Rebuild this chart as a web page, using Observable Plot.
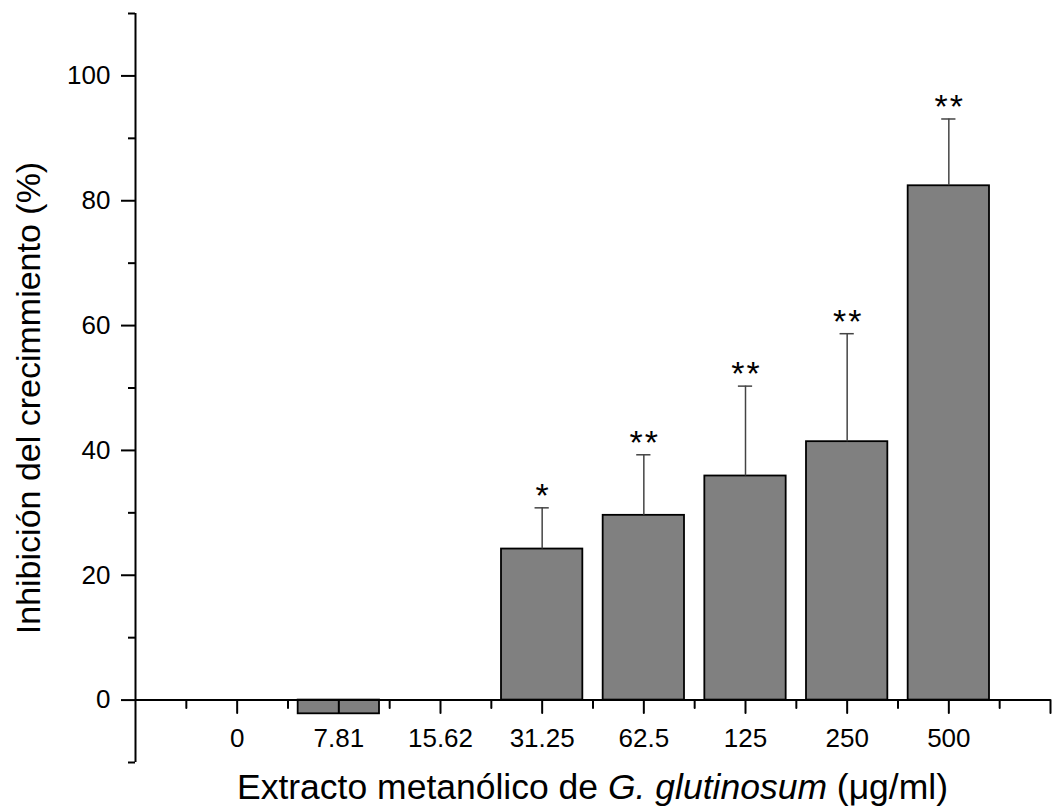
<!DOCTYPE html>
<html>
<head>
<meta charset="utf-8">
<script src="https://cdn.jsdelivr.net/npm/d3@7"></script>
<script src="https://cdn.jsdelivr.net/npm/@observablehq/plot@0.6"></script>
<style>
  html, body { margin: 0; padding: 0; background: #fff; }
  #chart svg { display: block; font-family: "Liberation Sans", Arial, sans-serif; }
  #chart svg .stars text { letter-spacing: 2px; }
  #xtitle {
    margin-left: 135px; width: 915px; text-align: center;
    font-family: "Liberation Sans", Arial, sans-serif; font-size: 35.5px; line-height: 39px;
    color: #000; white-space: nowrap;
  }
</style>
</head>
<body>
<div id="chart"></div>
<div id="xtitle">Extracto metanólico de <i>G. glutinosum</i> (μg/ml)</div>
<script>
// ---- data ----
const categories = ["0", "7.81", "15.62", "31.25", "62.5", "125", "250", "500"];
const inhibition = [0, -2.2, 0, 24.2, 29.6, 35.9, 41.4, 82.4];
const errors = [0, 0, 0, 6.6, 9.7, 14.4, 17.3, 10.7];
const significance = ["", "", "", "*", "**", "**", "**", "**"];
const yMajorTicks = [0, 20, 40, 60, 80, 100];
const yMinorTicks = [-10, 10, 30, 50, 70, 90, 110];
const yTitle = "Inhibición del crecimmiento (%)";

// ---- table ----
const rows = categories.map((c, i) => ({
  i, label: c, value: inhibition[i], err: errors[i], sig: significance[i]
}));
const withErr = rows.filter(d => d.err > 0);
const xMajor = d3.range(0, categories.length + 1);          // category positions + right end
const xMinor = d3.range(-0.5, categories.length, 1);         // half positions

const tickShape = { draw(context, l) { context.moveTo(0, 0); context.lineTo(0, -l); } };

const plot = Plot.plot({
  width: 1052,
  height: 768,
  marginLeft: 135,
  marginRight: 2,
  marginTop: 13,
  marginBottom: 6,
  x: { type: "linear", domain: [-1, categories.length], axis: null },
  y: { domain: [-10, 110], axis: null },
  marks: [
    // bars
    Plot.rectY(rows, {
      x1: d => d.i - 0.4, x2: d => d.i + 0.4, y1: 0, y2: "value",
      fill: "#808080", stroke: "#000", strokeWidth: 1.8
    }),
    // error bars
    Plot.ruleX(withErr, { x: "i", y1: "value", y2: d => d.value + d.err, stroke: "#444", strokeWidth: 1.5 }),
    Plot.ruleY(withErr, { y: d => d.value + d.err, x1: d => d.i - 0.07, x2: d => d.i + 0.07, stroke: "#444", strokeWidth: 1.5 }),
    // significance stars
    Plot.text(withErr, {
      x: "i", y: d => d.value + d.err, text: "sig", className: "stars",
      fontSize: 34, lineAnchor: "bottom", dy: -1, dx: 1, fill: "#000"
    }),
    // x axis line at y=0
    Plot.ruleY([0], { x1: -1, x2: categories.length, stroke: "#000", strokeWidth: 2 }),
    // x ticks (downward)
    Plot.vector(xMajor, { x: d => d, y: 0, length: 13, rotate: 180, anchor: "start", shape: tickShape, stroke: "#000", strokeWidth: 2 }),
    Plot.vector(xMinor, { x: d => d, y: 0, length: 8, rotate: 180, anchor: "start", shape: tickShape, stroke: "#000", strokeWidth: 2 }),
    // x tick labels
    Plot.text(rows, { x: "i", y: 0, text: "label", fontSize: 26, lineAnchor: "top", dy: 28, fill: "#000" }),
    // y axis line
    Plot.ruleX([-1], { stroke: "#000", strokeWidth: 2 }),
    // y ticks
    Plot.axisY(yMajorTicks, { anchor: "left", tickSize: 14, tickPadding: 11, strokeWidth: 2, fontSize: 26, label: null, color: "#000" }),
    Plot.axisY(yMinorTicks, { anchor: "left", tickSize: 7, strokeWidth: 2, tickFormat: () => "", label: null, color: "#000" }),
    // y title
    Plot.text([yTitle], {
      frameAnchor: "left", rotate: -90, dx: -96, dy: 10,
      fontSize: 34, lineAnchor: "bottom", textAnchor: "middle", fill: "#000"
    })
  ]
});
document.getElementById("chart").appendChild(plot);
</script>
</body>
</html>
